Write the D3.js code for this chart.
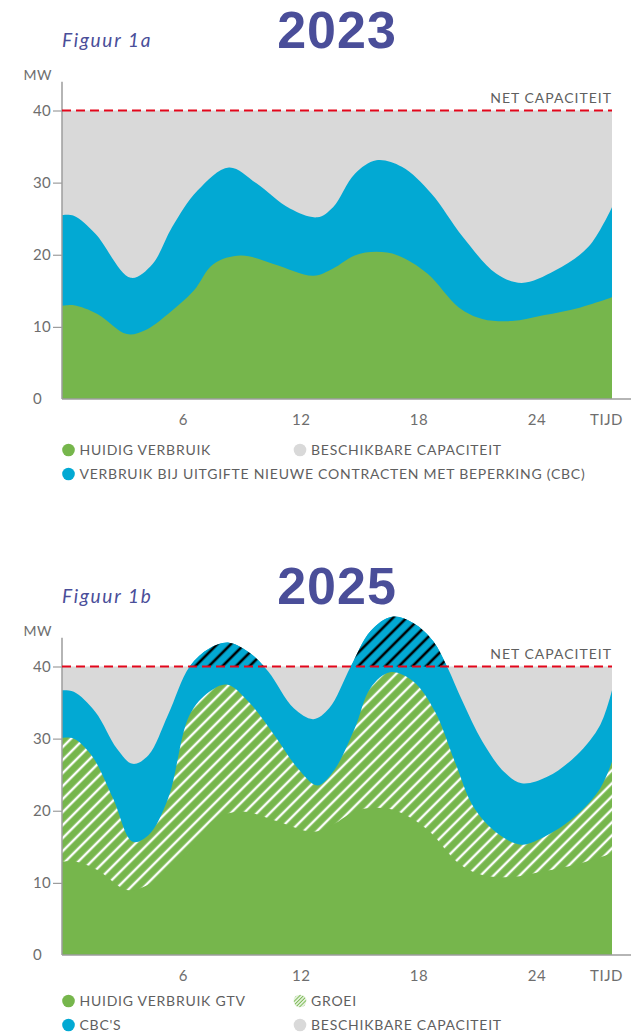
<!DOCTYPE html>
<html>
<head>
<meta charset="utf-8">
<script src="https://d3js.org/d3.v7.min.js"></script>
<style>
body { margin: 0; background: #fff; }
svg { display: block; font-family: Lato, "Open Sans", sans-serif; }
</style>
</head>
<body>
<svg id="grafiek" width="631" height="1035"></svg>
<script>
// figuur 1a - 2023 (uur, MW)
var uurHuidig = [0, 0.6, 1.8, 3.3, 4.2, 5.4, 6.7, 7.7, 9.1, 10.8, 12.8, 13.8, 14.9, 16.0, 17.1, 18.6, 20.2, 21.4, 22.9, 24.5, 26.4, 28];
var huidig = [12.9, 13.0, 11.8, 9.0, 9.5, 11.8, 15.0, 18.7, 19.9, 18.7, 17.1, 18.1, 19.9, 20.4, 19.9, 17.4, 12.7, 11.1, 10.8, 11.6, 12.7, 14.1];
var uurCbc2023 = [0, 0.6, 1.7, 3.5, 4.6, 5.6, 6.9, 8.5, 9.9, 11.6, 13.0, 13.8, 14.9, 16.0, 17.3, 18.8, 20.4, 22.1, 23.4, 25.1, 26.8, 28];
var cbc2023 = [25.5, 25.4, 22.9, 16.8, 18.7, 23.8, 28.9, 32.1, 29.9, 26.4, 25.2, 26.6, 31.2, 33.1, 32.2, 28.5, 22.5, 17.4, 16.1, 17.8, 21.1, 26.6];

// figuur 1b - 2025
var uurGroei2025 = [0, 0.6, 1.5, 2.6, 3.6, 4.4, 5.4, 6.5, 7.5, 8.4, 9.5, 10.8, 12.0, 13.0, 13.8, 14.9, 15.7, 16.7, 17.9, 19.0, 20.0, 21.0, 22.3, 23.4, 24.7, 26.2, 27.4, 28];
var groei2025 = [30.1, 30.0, 27.7, 21.7, 15.7, 16.6, 21.7, 33.3, 36.5, 37.5, 35.1, 30.5, 25.9, 23.5, 25.4, 31.4, 37.0, 39.2, 37.9, 33.7, 26.8, 20.3, 16.6, 15.3, 16.6, 19.4, 23.1, 26.8];
var uurCbc2025 = [0, 0.6, 1.7, 2.8, 3.6, 4.4, 5.4, 6.5, 7.5, 8.5, 9.6, 10.5, 11.8, 12.8, 13.6, 14.7, 15.7, 16.8, 17.9, 18.9, 19.6, 20.4, 21.4, 22.5, 23.4, 24.7, 26.2, 27.4, 28];
var cbc2025 = [36.7, 36.5, 33.7, 28.6, 26.5, 27.7, 33.3, 40.0, 42.5, 43.3, 41.8, 39.3, 34.2, 32.7, 34.2, 40.0, 44.9, 46.9, 46.0, 43.5, 40.0, 35.1, 29.6, 25.4, 23.8, 24.7, 27.7, 31.9, 36.7];

var netCapaciteit = 40;
var xTicks = [6, 12, 18, 24, 28];
var xTickLabels = ["6", "12", "18", "24", "TIJD"];
var yTicks = [0, 10, 20, 30, 40];

var legenda2023 = ["HUIDIG VERBRUIK", "BESCHIKBARE CAPACITEIT", "VERBRUIK BIJ UITGIFTE NIEUWE CONTRACTEN MET BEPERKING (CBC)"];
var legendaSoort2023 = ["groen", "grijs", "blauw"];
var legenda2025 = ["HUIDIG VERBRUIK GTV", "GROEI", "CBC'S", "BESCHIKBARE CAPACITEIT"];
var legendaSoort2025 = ["groen", "groei", "blauw", "grijs"];

var kleuren = {groen: "#76b64c", blauw: "#02a9d3", grijs: "#d9d9d9", rood: "#e3061b", titel: "#4a4e99", as: "#9d9d9d", tekst: "#5f5f5f"};

var svg = d3.select("#grafiek");
var defs = svg.append("defs");

function streepPatroon(id, achter, lijn, afstand, dikte) {
    var p = defs.append("pattern")
        .attr("id", id)
        .attr("patternUnits", "userSpaceOnUse")
        .attr("width", afstand)
        .attr("height", afstand)
        .attr("patternTransform", "rotate(45)");
    if (achter) {
        p.append("rect").attr("width", afstand).attr("height", afstand).attr("fill", achter);
    }
    p.append("line")
        .attr("x1", afstand / 2).attr("y1", -1)
        .attr("x2", afstand / 2).attr("y2", afstand + 1)
        .attr("stroke", lijn)
        .attr("stroke-width", dikte);
}
streepPatroon("groeiStreep", kleuren.groen, "#fff", 9.2, 2.4);
streepPatroon("overStreep", kleuren.blauw, "#000", 9.6, 2.6);
streepPatroon("groeiIcoon", "#fff", kleuren.groen, 2.6, 1.2);

function punten(uren, waarden) {
    return uren.map(function(u, i) { return {uur: u, mw: waarden[i]}; });
}

var x = d3.scaleLinear().domain([0, 28]).range([62, 612]);

function tekenFiguur(cfg) {
    var g = svg.append("g").attr("transform", "translate(0," + cfg.oy + ")");
    var y = d3.scaleLinear().domain([0, 40]).range([399, 110.5]);

    var area = d3.area()
        .x(function(d) { return x(d.uur); })
        .y0(y(0))
        .y1(function(d) { return y(d.mw); })
        .curve(d3.curveCatmullRom.alpha(0.5));

    // titels
    g.append("text")
        .attr("x", 62).attr("y", 47)
        .attr("font-style", "italic")
        .attr("font-size", 19)
        .attr("letter-spacing", 1.7)
        .attr("fill", kleuren.titel)
        .text(cfg.figuur);
    g.append("text")
        .attr("x", 337).attr("y", 48)
        .attr("text-anchor", "middle")
        .attr("font-family", "'Liberation Sans', Arial, sans-serif")
        .attr("font-weight", "bold")
        .attr("font-size", 52)
        .attr("letter-spacing", 1)
        .attr("fill", kleuren.titel)
        .text(cfg.jaar);

    // beschikbare capaciteit
    g.append("rect")
        .attr("x", x(0)).attr("y", y(netCapaciteit))
        .attr("width", x(28) - x(0))
        .attr("height", y(0) - y(netCapaciteit))
        .attr("fill", kleuren.grijs);

    g.append("path").datum(punten(cfg.uurCbc, cfg.cbc))
        .attr("d", area)
        .attr("fill", kleuren.blauw);

    if (cfg.groei) {
        g.append("path").datum(punten(cfg.uurGroei, cfg.groei))
            .attr("d", area)
            .attr("fill", "url(#groeiStreep)");
    }

    g.append("path").datum(punten(uurHuidig, huidig))
        .attr("d", area)
        .attr("fill", kleuren.groen);

    // deel boven de netcapaciteit
    if (cfg.groei) {
        var clipId = "boven" + cfg.jaar;
        g.append("clipPath").attr("id", clipId)
            .append("rect")
            .attr("x", x(0)).attr("y", y(60))
            .attr("width", x(28) - x(0))
            .attr("height", y(netCapaciteit) - y(60));
        g.append("path").datum(punten(cfg.uurCbc, cfg.cbc))
            .attr("d", area)
            .attr("clip-path", "url(#" + clipId + ")")
            .attr("fill", "url(#overStreep)");
    }

    // assen
    var yAs = g.append("g")
        .attr("transform", "translate(" + x(0) + ",0)")
        .call(d3.axisLeft(y).tickValues(yTicks).tickSize(9).tickSizeOuter(0));
    yAs.select(".domain").remove();
    yAs.selectAll(".tick line").attr("stroke", kleuren.as).attr("stroke-width", 1.2)
        .filter(function(d) { return d == 0; }).remove();
    yAs.selectAll(".tick text")
        .attr("x", 33 - x(0))
        .attr("text-anchor", "start")
        .attr("font-family", "Lato, sans-serif")
        .attr("font-size", 15)
        .attr("letter-spacing", 0.3)
        .attr("fill", "#6e6e6e");

    g.append("line")
        .attr("x1", x(0)).attr("x2", x(0))
        .attr("y1", y(44)).attr("y2", y(0))
        .attr("stroke", kleuren.as).attr("stroke-width", 1.5);

    var xAs = g.append("g")
        .attr("transform", "translate(0," + y(0) + ")")
        .call(d3.axisBottom(x).tickValues(xTicks).tickSize(0).tickPadding(15)
            .tickFormat(function(d, i) { return xTickLabels[i]; }));
    xAs.select(".domain").remove();
    xAs.selectAll(".tick text")
        .attr("dx", function(d) { return d == 28 ? -6 : 3; })
        .attr("font-family", "Lato, sans-serif")
        .attr("font-size", 15)
        .attr("letter-spacing", 0.5)
        .attr("fill", "#6e6e6e");

    g.append("line")
        .attr("x1", x(0)).attr("x2", 631)
        .attr("y1", y(0)).attr("y2", y(0))
        .attr("stroke", kleuren.as).attr("stroke-width", 1.5);

    g.append("text")
        .attr("x", 52).attr("y", 80)
        .attr("text-anchor", "end")
        .attr("font-size", 14)
        .attr("letter-spacing", 0.5)
        .attr("fill", "#6e6e6e")
        .text("MW");

    // netcapaciteit
    g.append("line")
        .attr("x1", x(0)).attr("x2", x(28))
        .attr("y1", y(netCapaciteit)).attr("y2", y(netCapaciteit))
        .attr("stroke", kleuren.rood)
        .attr("stroke-width", 2)
        .attr("stroke-dasharray", "9,5");
    g.append("text")
        .attr("x", x(28)).attr("y", y(netCapaciteit) - 8)
        .attr("text-anchor", "end")
        .attr("font-size", 14)
        .attr("letter-spacing", 1)
        .attr("fill", kleuren.tekst)
        .text("NET CAPACITEIT");

    // legenda
    var items = g.selectAll(".legenda")
        .data(cfg.legenda)
        .enter()
        .append("g")
        .attr("class", "legenda")
        .attr("transform", function(d, i) {
            return "translate(" + (i % 2 == 0 ? 68.5 : 300) + "," + (cfg.legY + Math.floor(i / 2) * 24) + ")";
        });
    items.append("circle")
        .attr("r", 6.3)
        .attr("fill", function(d, i) {
            var s = cfg.soort[i];
            return s == "groei" ? "url(#groeiIcoon)" : kleuren[s];
        });
    items.append("text")
        .attr("x", 11)
        .attr("y", 5)
        .attr("font-size", 14)
        .attr("letter-spacing", 0.75)
        .attr("fill", kleuren.tekst)
        .text(function(d) { return d; });
}

tekenFiguur({oy: 0, jaar: "2023", figuur: "Figuur 1a", uurCbc: uurCbc2023, cbc: cbc2023,
    legenda: legenda2023, soort: legendaSoort2023, legY: 450});
tekenFiguur({oy: 556, jaar: "2025", figuur: "Figuur 1b", uurCbc: uurCbc2025, cbc: cbc2025,
    uurGroei: uurGroei2025, groei: groei2025,
    legenda: legenda2025, soort: legendaSoort2025, legY: 1001 - 556});
</script>
</body>
</html>
